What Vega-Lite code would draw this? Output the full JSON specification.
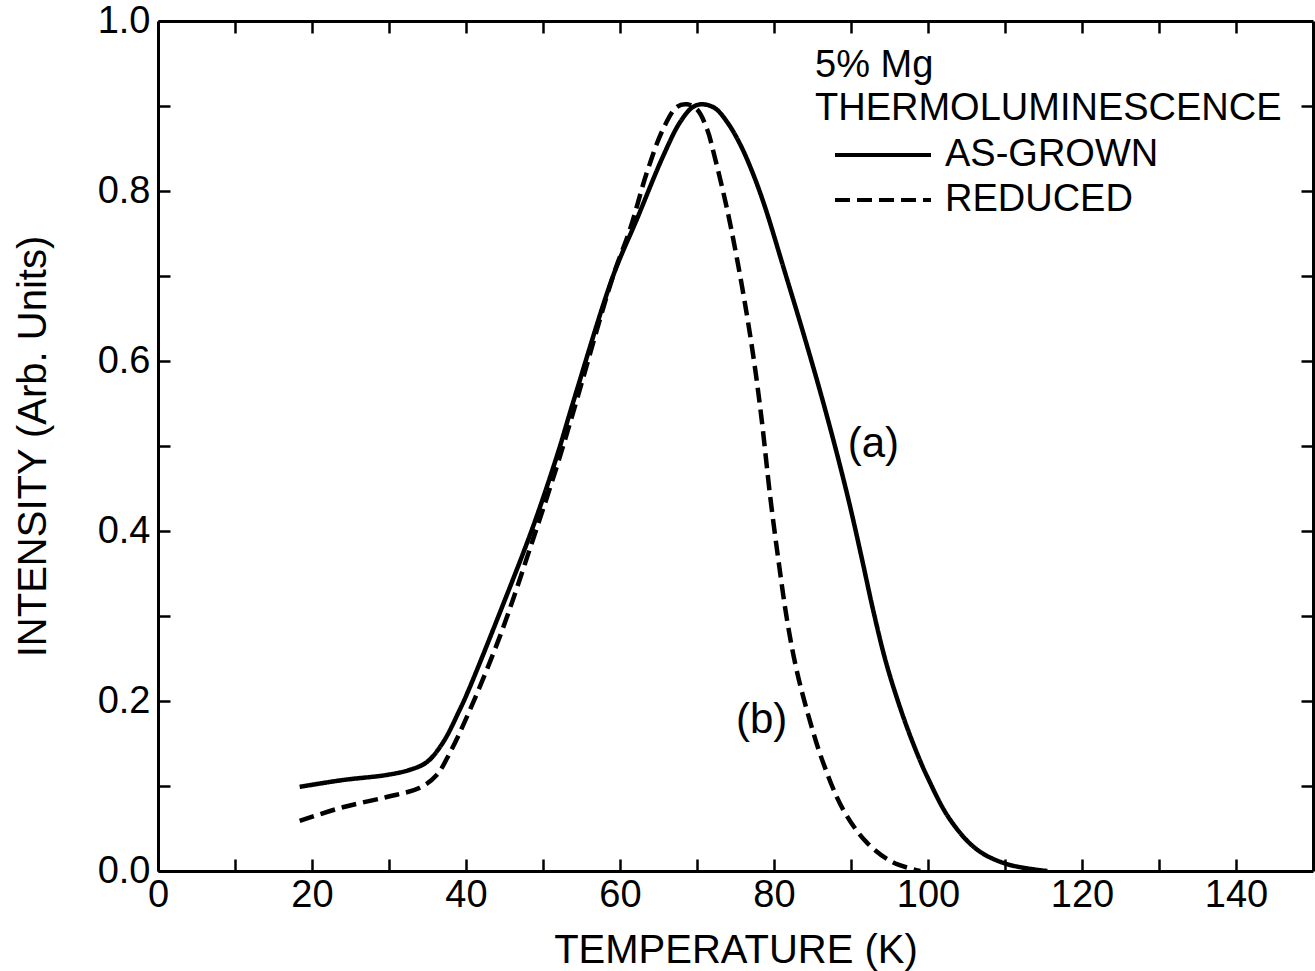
{
  "$schema": "https://vega.github.io/schema/vega-lite/v6.json",
  "width": 1155,
  "height": 850,
  "autosize": {"type": "none"},
  "padding": {"left": 158, "top": 21, "right": 2, "bottom": 100},
  "background": "white",
  "config": {
    "view": {"stroke": null},
    "font": "Liberation Sans",
    "axis": {
      "domainColor": "black", "domainWidth": 3,
      "tickColor": "black", "tickWidth": 2.5, "tickSize": -12,
      "labelColor": "black", "labelFont": "Liberation Sans", "labelFontSize": 38,
      "titleColor": "black", "titleFont": "Liberation Sans", "titleFontSize": 40, "titleFontWeight": "normal",
      "grid": false
    },
    "legend": {
      "orient": "none", "legendX": 657, "legendY": 26,
      "titleFont": "Liberation Sans", "titleFontSize": 38, "titleFontWeight": "normal", "titleColor": "black",
      "titleLineHeight": 43, "titlePadding": 8, "titleAlign": "left", "titleLimit": 0,
      "labelFont": "Liberation Sans", "labelFontSize": 38, "labelColor": "black", "labelLimit": 0,
      "symbolType": "M-4,0H4", "symbolSize": 576, "symbolStrokeWidth": 4, "symbolStrokeColor": "black", "symbolFillColor": "transparent",
      "symbolOffset": 49, "labelOffset": 43, "rowPadding": 7, "padding": 0
    }
  },
  "datasets": {
    "curves": [
      {"series": "AS-GROWN", "T": 18.4, "I": 0.099},
      {"series": "AS-GROWN", "T": 24.0, "I": 0.107},
      {"series": "AS-GROWN", "T": 29.7, "I": 0.113},
      {"series": "AS-GROWN", "T": 32.7, "I": 0.119},
      {"series": "AS-GROWN", "T": 34.9, "I": 0.128},
      {"series": "AS-GROWN", "T": 37.0, "I": 0.151},
      {"series": "AS-GROWN", "T": 39.2, "I": 0.190},
      {"series": "AS-GROWN", "T": 40.3, "I": 0.212},
      {"series": "AS-GROWN", "T": 44.4, "I": 0.304},
      {"series": "AS-GROWN", "T": 48.7, "I": 0.405},
      {"series": "AS-GROWN", "T": 51.8, "I": 0.488},
      {"series": "AS-GROWN", "T": 53.9, "I": 0.551},
      {"series": "AS-GROWN", "T": 59.1, "I": 0.700},
      {"series": "AS-GROWN", "T": 62.2, "I": 0.767},
      {"series": "AS-GROWN", "T": 65.6, "I": 0.841},
      {"series": "AS-GROWN", "T": 67.8, "I": 0.881},
      {"series": "AS-GROWN", "T": 69.5, "I": 0.899},
      {"series": "AS-GROWN", "T": 70.8, "I": 0.902},
      {"series": "AS-GROWN", "T": 72.4, "I": 0.897},
      {"series": "AS-GROWN", "T": 74.0, "I": 0.880},
      {"series": "AS-GROWN", "T": 75.6, "I": 0.855},
      {"series": "AS-GROWN", "T": 77.2, "I": 0.822},
      {"series": "AS-GROWN", "T": 78.8, "I": 0.782},
      {"series": "AS-GROWN", "T": 81.4, "I": 0.705},
      {"series": "AS-GROWN", "T": 83.8, "I": 0.633},
      {"series": "AS-GROWN", "T": 86.0, "I": 0.564},
      {"series": "AS-GROWN", "T": 88.0, "I": 0.497},
      {"series": "AS-GROWN", "T": 89.8, "I": 0.432},
      {"series": "AS-GROWN", "T": 91.4, "I": 0.368},
      {"series": "AS-GROWN", "T": 92.9, "I": 0.306},
      {"series": "AS-GROWN", "T": 94.5, "I": 0.247},
      {"series": "AS-GROWN", "T": 96.2, "I": 0.197},
      {"series": "AS-GROWN", "T": 97.9, "I": 0.154},
      {"series": "AS-GROWN", "T": 99.9, "I": 0.111},
      {"series": "AS-GROWN", "T": 102.9, "I": 0.060},
      {"series": "AS-GROWN", "T": 106.4, "I": 0.025},
      {"series": "AS-GROWN", "T": 110.3, "I": 0.008},
      {"series": "AS-GROWN", "T": 115.5, "I": 0.0},
      {"series": "REDUCED", "T": 18.4, "I": 0.059},
      {"series": "REDUCED", "T": 24.0, "I": 0.075},
      {"series": "REDUCED", "T": 29.7, "I": 0.087},
      {"series": "REDUCED", "T": 34.0, "I": 0.098},
      {"series": "REDUCED", "T": 36.2, "I": 0.113},
      {"series": "REDUCED", "T": 37.9, "I": 0.139},
      {"series": "REDUCED", "T": 40.1, "I": 0.181},
      {"series": "REDUCED", "T": 44.4, "I": 0.276},
      {"series": "REDUCED", "T": 48.7, "I": 0.390},
      {"series": "REDUCED", "T": 51.8, "I": 0.476},
      {"series": "REDUCED", "T": 53.9, "I": 0.539},
      {"series": "REDUCED", "T": 59.1, "I": 0.700},
      {"series": "REDUCED", "T": 61.3, "I": 0.755},
      {"series": "REDUCED", "T": 63.5, "I": 0.822},
      {"series": "REDUCED", "T": 65.6, "I": 0.873},
      {"series": "REDUCED", "T": 67.4, "I": 0.899},
      {"series": "REDUCED", "T": 68.7, "I": 0.902},
      {"series": "REDUCED", "T": 70.0, "I": 0.896},
      {"series": "REDUCED", "T": 71.3, "I": 0.873},
      {"series": "REDUCED", "T": 72.3, "I": 0.840},
      {"series": "REDUCED", "T": 73.9, "I": 0.779},
      {"series": "REDUCED", "T": 75.2, "I": 0.720},
      {"series": "REDUCED", "T": 76.5, "I": 0.653},
      {"series": "REDUCED", "T": 77.5, "I": 0.594},
      {"series": "REDUCED", "T": 78.4, "I": 0.531},
      {"series": "REDUCED", "T": 79.5, "I": 0.441},
      {"series": "REDUCED", "T": 80.6, "I": 0.364},
      {"series": "REDUCED", "T": 81.7, "I": 0.295},
      {"series": "REDUCED", "T": 82.9, "I": 0.238},
      {"series": "REDUCED", "T": 84.4, "I": 0.185},
      {"series": "REDUCED", "T": 86.4, "I": 0.127},
      {"series": "REDUCED", "T": 89.0, "I": 0.072},
      {"series": "REDUCED", "T": 92.1, "I": 0.033},
      {"series": "REDUCED", "T": 95.5, "I": 0.010},
      {"series": "REDUCED", "T": 99.0, "I": 0.0}
    ],
    "labels": [
      {"T": 92.9, "I": 0.502, "label": "(a)"},
      {"T": 78.4, "I": 0.178, "label": "(b)"}
    ]
  },
  "resolve": {"axis": {"x": "independent", "y": "independent"}},
  "layer": [
    {
      "data": {"name": "curves"},
      "mark": {"type": "line", "color": "black", "strokeWidth": 4.5, "interpolate": "catmull-rom", "clip": true},
      "encoding": {
        "x": {
          "field": "T", "type": "quantitative",
          "scale": {"domain": [0, 150], "nice": false, "zero": false},
          "axis": {
            "orient": "bottom", "title": "TEMPERATURE (K)",
            "values": [0, 10, 20, 30, 40, 50, 60, 70, 80, 90, 100, 110, 120, 130, 140],
            "labelExpr": "datum.value % 20 === 0 ? datum.label : ''",
            "labelPadding": 17, "titlePadding": 16, "labelFlush": false, "labelOverlap": false
          }
        },
        "y": {
          "field": "I", "type": "quantitative",
          "scale": {"domain": [0, 1], "nice": false},
          "axis": {
            "orient": "left", "title": "INTENSITY (Arb. Units)",
            "values": [0, 0.1, 0.2, 0.3, 0.4, 0.5, 0.6, 0.7, 0.8, 0.9, 1.0],
            "labelExpr": "round(datum.value * 10) % 2 === 0 ? format(datum.value, '.1f') : ''",
            "labelPadding": 20, "titlePadding": 44, "labelFlush": false, "labelOverlap": false
          }
        },
        "strokeDash": {
          "field": "series", "type": "nominal",
          "scale": {"domain": ["AS-GROWN", "REDUCED"], "range": [[1, 0], [15, 7]]},
          "legend": {"title": ["5% Mg", "THERMOLUMINESCENCE"]}
        }
      }
    },
    {
      "data": {"name": "labels"},
      "mark": {"type": "text", "font": "Liberation Sans", "fontSize": 42, "color": "black", "align": "center", "baseline": "middle"},
      "encoding": {
        "x": {
          "field": "T", "type": "quantitative",
          "axis": {
            "orient": "top", "title": null, "labels": false,
            "values": [10, 20, 30, 40, 50, 60, 70, 80, 90, 100, 110, 120, 130, 140]
          }
        },
        "y": {
          "field": "I", "type": "quantitative",
          "axis": {
            "orient": "right", "title": null, "labels": false,
            "values": [0.1, 0.2, 0.3, 0.4, 0.5, 0.6, 0.7, 0.8, 0.9]
          }
        },
        "text": {"field": "label"}
      }
    }
  ]
}
